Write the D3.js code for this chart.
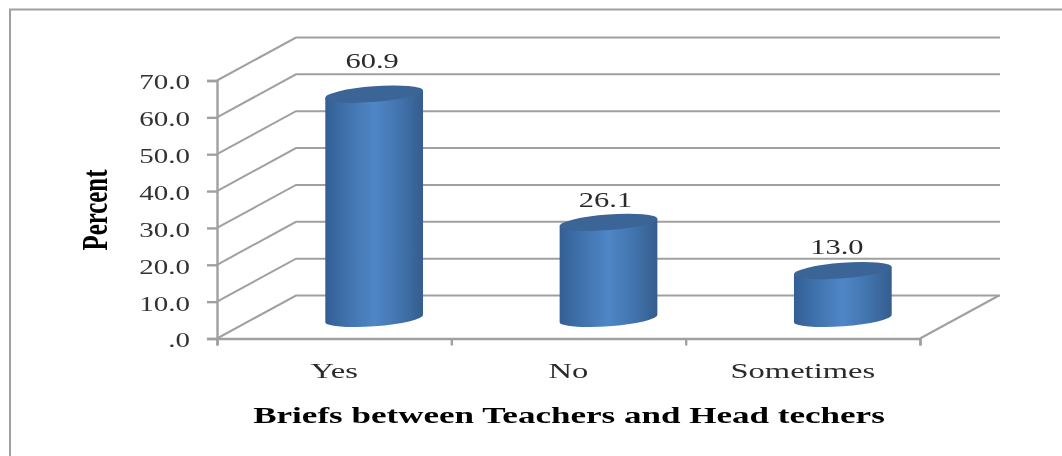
<!DOCTYPE html>
<html>
<head>
<meta charset="utf-8">
<script src="https://cdnjs.cloudflare.com/ajax/libs/d3/7.8.5/d3.min.js"></script>
<style>
  body { margin: 0; background: #fff; }
  text { font-family: "Liberation Serif", serif; }
</style>
</head>
<body>
<div id="chart"></div>
<script>
// data
var categories = ["Yes", "No", "Sometimes"];
var percents = [60.9, 26.1, 13.0];
var percentLabels = ["60.9", "26.1", "13.0"];
var yTicks = [0, 10, 20, 30, 40, 50, 60, 70];
var yTickLabels = [".0", "10.0", "20.0", "30.0", "40.0", "50.0", "60.0", "70.0"];

var xAxisTitle = "Briefs between Teachers and Head techers";
var yAxisTitle = "Percent";

// the labels don't sit at a fixed distance above the bars in the original
var labelLift = [26, 15, 17];
var labelShift = [-2, -3, -6];

var width = 1062, height = 456;
var plot = {left: 217, right: 920, top: 80.5, bottom: 338.5};
var depth = {x: 79, y: 43};
var gridColor = "#a0a0a0";

var svg = d3.select("#chart")
  .append("svg")
    .attr("width", width)
    .attr("height", height)
    .style("display", "block");

var defs = svg.append("defs");

// the reference is a soft, upscaled image
defs.append("filter").attr("id", "soft")
    .attr("filterUnits", "userSpaceOnUse")
    .attr("x", 0).attr("y", 0)
    .attr("width", width).attr("height", height)
  .append("feGaussianBlur").attr("stdDeviation", 0.7);

var grad = defs.append("linearGradient").attr("id", "barFill");
grad.append("stop").attr("offset", "0%").attr("stop-color", "#335f94");
grad.append("stop").attr("offset", "25%").attr("stop-color", "#4174af");
grad.append("stop").attr("offset", "50%").attr("stop-color", "#4f86c6");
grad.append("stop").attr("offset", "75%").attr("stop-color", "#4274ae");
grad.append("stop").attr("offset", "100%").attr("stop-color", "#355d8d");

var root = svg.append("g").attr("filter", "url(#soft)");

// outer frame, only top and left show
root.append("path")
  .attr("d", "M10,456V9.5H1062")
  .attr("fill", "none")
  .attr("stroke", "#a0a0a0")
  .attr("stroke-width", 2);

var x = d3.scaleBand()
  .domain(categories)
  .range([plot.left, plot.right]);

var y = d3.scaleLinear()
  .domain([0, 70])
  .range([plot.bottom, plot.top]);

// wall gridlines: diagonal on the side wall, then flat along the back
root.append("g")
  .selectAll("path")
  .data(yTicks)
  .enter()
  .append("path")
    .attr("d", function (d) {
      var back = y(d) - depth.y;
      return "M" + plot.left + "," + y(d) + "L" + (plot.left + depth.x) + "," + back + "H" + (plot.right + depth.x + 1);
    })
    .attr("fill", "none")
    .attr("stroke", gridColor)
    .attr("stroke-width", 2);

// floor edge on the right
root.append("line")
  .attr("x1", plot.right).attr("y1", plot.bottom)
  .attr("x2", plot.right + depth.x).attr("y2", plot.bottom - depth.y)
  .attr("stroke", gridColor)
  .attr("stroke-width", 2);

// y axis
var yAxis = root.append("g")
  .attr("transform", "translate(" + plot.left + ",0)")
  .call(d3.axisLeft(y)
    .tickValues(yTicks)
    .tickSize(10)
    .tickPadding(17)
    .tickFormat(function (d, i) { return yTickLabels[i]; }));

// x axis, ticks on the band edges
var xEdges = d3.scaleLinear().domain([0, categories.length]).range([plot.left, plot.right]);
var xAxis = root.append("g")
  .attr("transform", "translate(0," + plot.bottom + ")")
  .call(d3.axisBottom(xEdges)
    .tickValues(d3.range(categories.length + 1))
    .tickSize(7)
    .tickFormat(""));

root.selectAll(".domain, .tick line")
  .attr("stroke", gridColor)
  .attr("stroke-width", 2.4);

yAxis.selectAll("text")
  .attr("fill", "#333")
  .attr("dy", "0.42em")
  .style("font-size", "20px")
  .each(function () { stretch(this, 1.45); });

// category labels
root.append("g")
  .selectAll("text")
  .data(categories)
  .enter()
  .append("text")
    .attr("x", function (d) { return x(d) + x.bandwidth() / 2; })
    .attr("y", 378)
    .attr("text-anchor", "middle")
    .attr("fill", "#2a2a2a")
    .style("font-size", "21px")
    .text(function (d) { return d; })
    .each(function () { stretch(this, 1.55); });

// cylinders
var rx = 49, ry = 7.8, tilt = 4.3;
var tiltX = rx * Math.cos(tilt * Math.PI / 180);
var tiltY = rx * Math.sin(tilt * Math.PI / 180);
var floorX = 40, floorY = 20;

var bars = root.append("g")
  .selectAll("g")
  .data(percents)
  .enter()
  .append("g");

bars.append("path")
  .attr("fill", "url(#barFill)")
  .attr("d", function (d, i) {
    var cx = x(categories[i]) + x.bandwidth() / 2 + floorX;
    var base = y(0) - floorY, top = y(d) - floorY;
    return "M" + (cx - tiltX) + "," + (top + tiltY) +
      "V" + (base + tiltY) +
      "A" + rx + "," + ry + " " + (-tilt) + " 0 0 " + (cx + tiltX) + "," + (base - tiltY) +
      "V" + (top - tiltY) +
      "Z";
  });

bars.append("ellipse")
  .attr("rx", rx)
  .attr("ry", ry)
  .attr("fill", "#3a6596")
  .attr("transform", function (d, i) {
    var cx = x(categories[i]) + x.bandwidth() / 2 + floorX;
    return "translate(" + cx + "," + (y(d) - floorY) + ") rotate(" + (-tilt) + ")";
  });

// value labels
root.append("g")
  .selectAll("text")
  .data(percents)
  .enter()
  .append("text")
    .attr("x", function (d, i) { return x(categories[i]) + x.bandwidth() / 2 + floorX + labelShift[i]; })
    .attr("y", function (d, i) { return y(d) - floorY - labelLift[i]; })
    .attr("text-anchor", "middle")
    .attr("fill", "#2a2a2a")
    .style("font-size", "21px")
    .text(function (d, i) { return percentLabels[i]; })
    .each(function () { stretch(this, 1.45); });

// axis titles
root.append("text")
  .attr("x", 569)
  .attr("y", 423)
  .attr("text-anchor", "middle")
  .attr("fill", "#000")
  .style("font-size", "24px")
  .style("font-weight", "bold")
  .text(xAxisTitle)
  .each(function () { stretch(this, 1.46); });

root.append("text")
  .attr("transform", "translate(107,210) rotate(-90)")
  .attr("text-anchor", "middle")
  .attr("fill", "#000")
  .style("font-size", "36px")
  .style("font-weight", "bold")
  .text(yAxisTitle)
  .each(function () { stretch(this, 0.69); });

// the original text is pulled out of shape, so widen or squeeze it
function stretch(node, k) {
  var w = node.getComputedTextLength();
  d3.select(node)
    .attr("textLength", w * k)
    .attr("lengthAdjust", "spacingAndGlyphs");
}
</script>
</body>
</html>
